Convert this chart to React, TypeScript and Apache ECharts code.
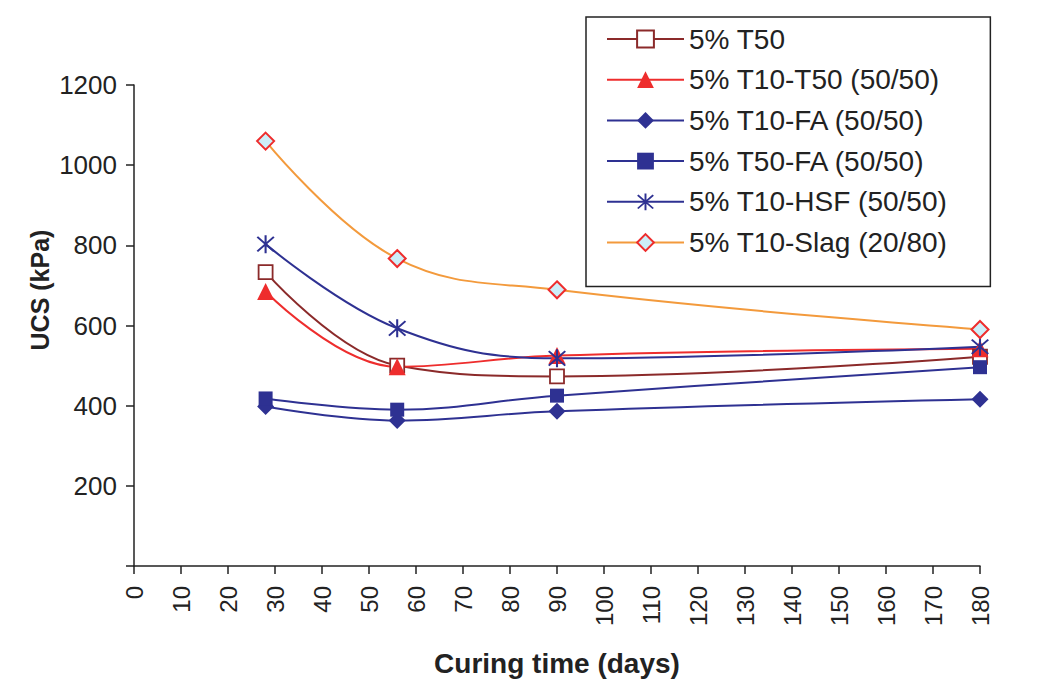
import React, { useEffect, useRef } from "react";
import * as echarts from "echarts";

const days = [28, 56, 90, 180];
const seriesNames = [
  "5% T50",
  "5% T10-T50 (50/50)",
  "5% T10-FA (50/50)",
  "5% T50-FA (50/50)",
  "5% T10-HSF (50/50)",
  "5% T10-Slag (20/80)",
];
const t50 = [733, 500, 473, 522];
const t10t50 = [685, 497, 525, 542];
const t10fa = [398, 363, 386, 416];
const t50fa = [418, 390, 425, 496];
const t10hsf = [803, 593, 518, 547];
const t10slag = [1060, 767, 689, 590];
const xTicks = { min: 0, max: 180, interval: 10 };
const yTicks = { min: 0, max: 1200, interval: 200 };

const ASTERISK =
  "path://M9,0 L11,0 L11,20 L9,20 Z M1.3,2.7 L2.7,1.3 L18.7,17.3 L17.3,18.7 Z M17.3,1.3 L18.7,2.7 L2.7,18.7 L1.3,17.3 Z";

const FONT = "'Liberation Sans', Arial, Helvetica, sans-serif";

export default function App() {
  const ref = useRef<HTMLDivElement>(null);
  useEffect(() => {
    if (!ref.current) return;
    const chart = echarts.init(ref.current, undefined, { renderer: "svg" });
    const pair = (vals: number[]) => days.map((d, i) => [d, vals[i]]);
    const mk = (
      name: string,
      vals: number[],
      lineColor: string,
      symbol: string,
      size: number,
      itemStyle: any
    ) => ({
      name,
      type: "line",
      data: pair(vals),
      smooth: 0.4,
      symbol,
      symbolSize: size,
      showAllSymbol: true,
      lineStyle: { color: lineColor, width: 2 },
      itemStyle,
      color: lineColor,
    });
    const navy = "#2e3192";
    const option: any = {
      animation: false,
      backgroundColor: "#ffffff",
      textStyle: { fontFamily: FONT },
      grid: { left: 134, right: 73, top: 85, bottom: 133 },
      legend: {
        orient: "vertical",
        left: 586,
        top: 17,
        data: seriesNames,
        itemWidth: 77,
        itemHeight: 21,
        itemGap: 12.7,
        padding: [8, 43, 30, 20],
        borderColor: "#222",
        borderWidth: 1.5,
        textStyle: {
          fontFamily: FONT,
          fontSize: 28,
          color: "#222",
          lineHeight: 26,
          padding: [0, 0, 0, 0],
        },
      },
      xAxis: {
        type: "value",
        min: xTicks.min,
        max: xTicks.max,
        interval: xTicks.interval,
        splitLine: { show: false },
        axisLine: { show: true, onZero: false, lineStyle: { color: "#222", width: 1.5 } },
        axisTick: { show: true, length: 8, lineStyle: { color: "#222", width: 1.5 } },
        axisLabel: {
          rotate: 90,
          margin: 20,
          fontSize: 24,
          color: "#222",
          fontFamily: FONT,
        },
        name: "Curing time (days)",
        nameLocation: "middle",
        nameGap: 83,
        nameTextStyle: {
          fontFamily: FONT,
          fontWeight: "bold",
          fontSize: 28,
          color: "#222",
        },
      },
      yAxis: {
        type: "value",
        min: yTicks.min,
        max: yTicks.max,
        interval: yTicks.interval,
        splitLine: { show: false },
        axisLine: { show: true, onZero: false, lineStyle: { color: "#222", width: 1.5 } },
        axisTick: { show: true, length: 8, lineStyle: { color: "#222", width: 1.5 } },
        axisLabel: {
          margin: 17,
          fontSize: 26,
          color: "#222",
          fontFamily: FONT,
          formatter: (v: number) => (v === 0 ? "" : String(v)),
        },
      },
      graphic: [
        {
          type: "text",
          x: 40,
          y: 290,
          rotation: Math.PI / 2,
          style: {
            text: "UCS (kPa)",
            fontFamily: FONT,
            fontWeight: "bold",
            fontSize: 25,
            fill: "#222",
            textAlign: "center",
            textVerticalAlign: "middle",
          },
        },
      ],
      series: [
        mk(seriesNames[0], t50, "#8b2a2a", "rect", 14, {
          color: "#ffffff",
          borderColor: "#8b2a2a",
          borderWidth: 1.8,
        }),
        mk(seriesNames[1], t10t50, "#ee2d2d", "triangle", 17, {
          color: "#ee2d2d",
          borderColor: "#ee2d2d",
          borderWidth: 0,
        }),
        mk(seriesNames[2], t10fa, navy, "diamond", 17, {
          color: navy,
          borderWidth: 0,
        }),
        mk(seriesNames[3], t50fa, navy, "rect", 14, {
          color: navy,
          borderWidth: 0,
        }),
        mk(seriesNames[4], t10hsf, navy, ASTERISK, 18, {
          color: navy,
          borderWidth: 0,
        }),
        mk(seriesNames[5], t10slag, "#f39a3c", "diamond", 17, {
          color: "#cdeef8",
          borderColor: "#ee2d2d",
          borderWidth: 2,
        }),
      ],
    };
    chart.setOption(option);
    return () => chart.dispose();
  }, []);
  return <div ref={ref} style={{ width: 1053, height: 699, margin: -8 }} />;
}
